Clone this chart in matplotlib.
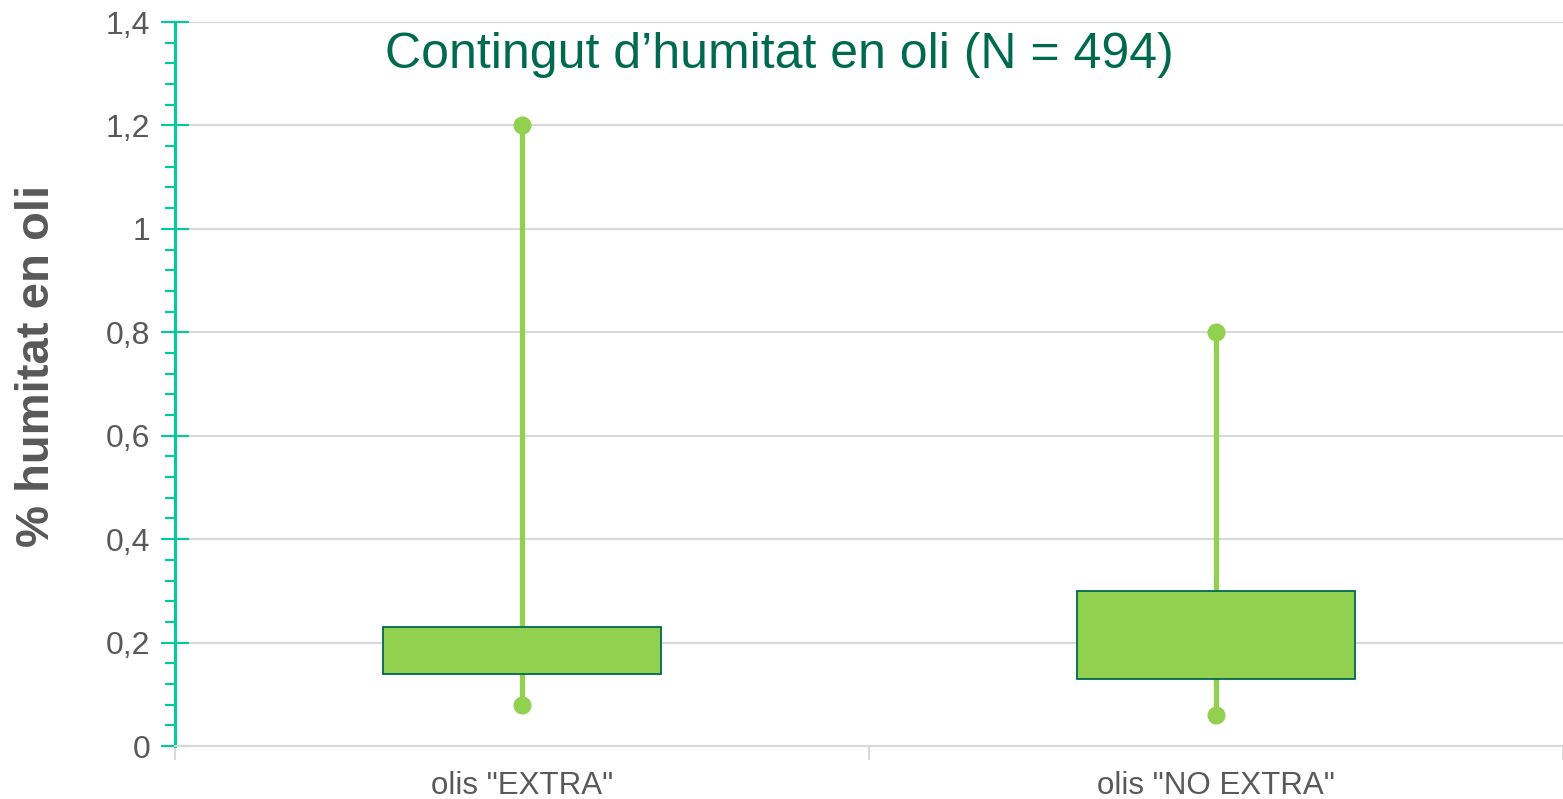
import matplotlib
matplotlib.use("Agg")
import matplotlib.pyplot as plt
from matplotlib.ticker import MultipleLocator, FixedLocator, FuncFormatter

categories = ['olis "EXTRA"', 'olis "NO EXTRA"']
q1 = [0.14, 0.13]
q3 = [0.23, 0.30]
whisker_low = [0.08, 0.06]
whisker_high = [1.20, 0.80]
title = "Contingut d\u2019humitat en oli (N = 494)"
ylabel = "% humitat en oli"

plt.rcParams['font.family'] = ['Liberation Sans', 'DejaVu Sans']

fig = plt.figure(figsize=(15.63, 7.99), dpi=100)
ax = fig.add_axes([175/1563, 53/799, (1563-175)/1563, (746-22)/799])

light_green = "#92D050"
dark_green = "#006A4E"
teal = "#00CC99"
grey_text = "#595959"

positions = [i + 0.5 for i in range(len(categories))]
box_w = 0.4
for x, lo, hi, b, t in zip(positions, whisker_low, whisker_high, q1, q3):
    ax.plot([x, x], [lo, hi], color=light_green, lw=3.8, zorder=2, solid_capstyle='butt')
    ax.plot([x, x], [lo, hi], 'o', color=light_green, ms=12, zorder=3)
    ax.bar(x, t - b, bottom=b, width=box_w, color=light_green,
           edgecolor=dark_green, linewidth=1.3, zorder=4)

ax.set_xlim(0, len(categories))
ax.set_ylim(0, 1.4)

ax.yaxis.set_major_locator(MultipleLocator(0.2))
ax.yaxis.set_minor_locator(MultipleLocator(0.04))
ax.yaxis.set_major_formatter(FuncFormatter(lambda v, p: ("%g" % round(v, 2)).replace('.', ',')))
ax.grid(axis='y', which='major', color="#D9D9D9", lw=1.5, zorder=0)
ax.set_axisbelow(True)

ax.xaxis.set_major_locator(FixedLocator([0, 1, 2]))
ax.xaxis.set_major_formatter(FuncFormatter(lambda v, p: ""))
ax.xaxis.set_minor_locator(FixedLocator(positions))
ax.set_xticklabels(categories, minor=True)

ax.tick_params(axis='y', which='major', direction='inout', length=20, width=1.5,
               color=teal, labelsize=23, labelcolor=grey_text, pad=8)
ax.tick_params(axis='y', which='minor', direction='out', length=7, width=1.5, color=teal)
ax.tick_params(axis='x', which='major', direction='out', length=10, width=1.5, color="#D9D9D9")
ax.tick_params(axis='x', which='minor', length=0, labelsize=22.5, labelcolor=grey_text, pad=18)

for s in ['top', 'right']:
    ax.spines[s].set_visible(False)
ax.spines['left'].set_color(teal)
ax.spines['left'].set_linewidth(2.2)
ax.spines['bottom'].set_color("#D9D9D9")
ax.spines['bottom'].set_linewidth(1.5)

fig.text(779/1563, 1 - 55/799, title, ha='center', va='center', fontsize=36, color=dark_green)
fig.text(37/1563, 1 - 366/799, ylabel, ha='center', va='center', rotation=90,
         fontsize=34, fontweight='bold', color=grey_text)

fig.savefig("out.png", dpi=100)
